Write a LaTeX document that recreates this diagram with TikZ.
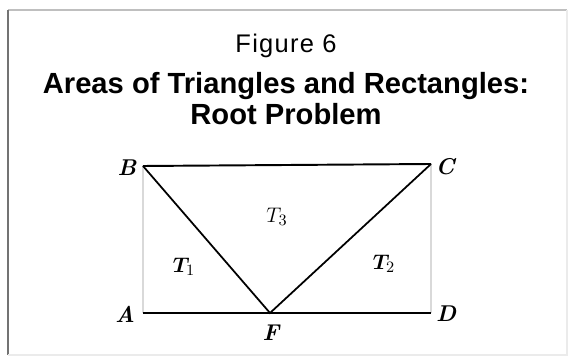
\documentclass[tikz,border=0pt]{standalone}
\usepackage{fontspec}
\usepackage{bm}
\newfontfamily\headfont{Liberation Sans}
\usetikzlibrary{positioning}

\begin{document}
\begin{tikzpicture}[
  x=0.02cm, y=-0.02cm,
  heading/.style={font=\headfont\bfseries\fontsize{16.6}{20}\selectfont, inner sep=0pt, anchor=base},
  caption/.style={font=\headfont\addfontfeature{LetterSpace=5}\fontsize{14.5}{17}\selectfont, inner sep=0pt, anchor=base},
  vertex/.style={font=\fontsize{13}{15}\selectfont\bfseries\itshape, inner sep=0pt},
  region/.style={font=\fontsize{13}{15}\selectfont, inner sep=0pt},
  edge/.style={line width=1.1pt},
  diag/.style={line width=1pt},
  side/.style={line width=0.8pt, black!15},
  frame/.style={line width=0.9pt, black!25}
]
\useasboundingbox (0,0) rectangle (571,357);
% outer frame
\draw[frame] (567,10) -- (8,10);
\draw[frame, black!55] (8,10) -- (8,355);
\draw[frame, black!8] (567,10) -- (567,355) -- (8,355);

% heading
\node[caption] (fig) at (286,53) {Figure 6};
\node[heading] (title) at (286,94) {Areas of Triangles and Rectangles:};
\node[heading] (subtitle) at (286,125) {Root Problem};

% corners of the rectangle
\coordinate (A) at (143,313);
\coordinate (B) at (143,166);
\coordinate (C) at (431,164);
\coordinate (D) at (431,313);
\coordinate (F) at (270,313);

\draw[side] (A) -- (B);
\draw[side] (D) -- (C);
\draw[edge] (B) -- (C);
\draw[edge] (A) -- (D);
\draw[diag] (B) -- (F) -- (C);

% vertex labels
\node[vertex] (labB) at (127,168) {B};
\node[vertex] (labC) at (445,167) {C};
\node[vertex] (labA) at (125,314) {A};
\node[vertex] (labD) at (446,314) {D};
\node[vertex] (labF) at (271,333) {F};

% triangle labels
\node[region] (t1) at (184,267) {$\bm{T}_1$};
\node[region] (t2) at (384,264) {$\bm{T}_2$};
\node[region] (t3) at (277,217) {$T_3$};
\end{tikzpicture}
\end{document}
